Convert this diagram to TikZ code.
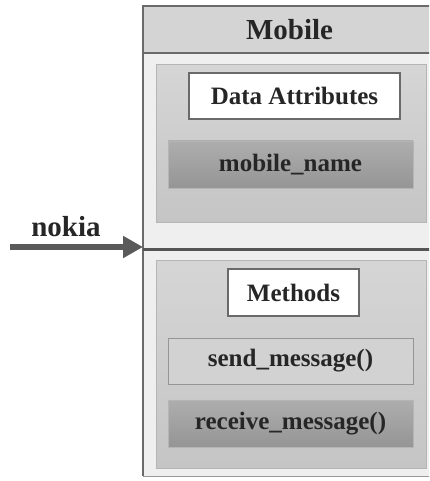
\documentclass[tikz,border=0pt]{standalone}
\usepackage{fontspec}
\setmainfont{Liberation Serif}
\usetikzlibrary{arrows.meta}
\definecolor{txt}{HTML}{262626}
\definecolor{outerline}{HTML}{6A6A6A}
\definecolor{headfill}{HTML}{D4D4D4}
\definecolor{bodyfill}{HTML}{EFEFEF}
\definecolor{panelfill}{HTML}{CBCBCB}
\definecolor{panelline}{HTML}{B5B5B5}
\definecolor{darkfill}{HTML}{A6A6A6}
\definecolor{lightfill}{HTML}{D2D2D2}
\definecolor{arrowcol}{HTML}{5A5A5A}
\tikzset{
  base/.style={rectangle, inner sep=0pt, outer sep=0pt, font=\bfseries\fontsize{25}{28}\selectfont, text=txt},
  headbox/.style={base, fill=headfill, draw=outerline, line width=1.4pt, font=\bfseries\fontsize{29}{31}\selectfont},
  panel/.style={base, top color=panelfill!80!white, bottom color=panelfill!97!black, draw=panelline, line width=1pt},
  titlebox/.style={base, fill=white, draw=outerline, line width=1.2pt},
  darkbox/.style={base, top color=darkfill!92!white, bottom color=darkfill!90!black, draw=panelline, line width=0.8pt},
  lightbox/.style={base, fill=lightfill, draw=darkfill!90!black, line width=0.8pt},
  flow/.style={draw=arrowcol, line width=6pt, -{Triangle[length=20pt,width=21pt]}},
}
\begin{document}
\begin{tikzpicture}[x=1pt,y=-1pt]
\useasboundingbox (0,0) rectangle (429,481);
\clip (0,0) rectangle (429,481);
% body of the class box
\fill[bodyfill] (143,53) rectangle (436,476);
\draw[outerline!70, line width=1pt] (436,476) -- (143,476);
\draw[outerline, line width=1.4pt] (143,476) -- (143,6);
\node[headbox, minimum width=293pt, minimum height=47pt] (mobile) at (289.5,29.5) {Mobile};
% upper section
\node[panel, minimum width=270pt, minimum height=157pt] (attrpanel) at (291,143.5) {};
\node[titlebox, minimum width=211pt, minimum height=46pt] (dattr) at (294.5,96) {Data Attributes};
\node[darkbox, minimum width=245pt, minimum height=47pt] (mname) at (290.5,164.5) {mobile\_name};
% divider
\coordinate (divL) at (143,249);
\coordinate (divR) at (436,249);
\draw[draw=outerline!80!black, line width=3pt] (divL) -- (divR);
% lower section
\node[panel, minimum width=270pt, minimum height=208pt] (methpanel) at (291,364) {};
\node[titlebox, minimum width=131pt, minimum height=47pt] (methods) at (293.5,292.5) {Methods};
\node[lightbox, minimum width=245pt, minimum height=46pt] (send) at (290.5,361) {send\_message()};
\node[darkbox, minimum width=245pt, minimum height=47pt] (recv) at (290.5,423.5) {receive\_message()};
% incoming arrow
\node[base, font=\bfseries\fontsize{29}{31}\selectfont] (nokia) at (66,227) {nokia};
\coordinate (src) at (10,247);
\coordinate (dst) at (143,247);
\draw[flow] (src) -- (dst);
\end{tikzpicture}
\end{document}
